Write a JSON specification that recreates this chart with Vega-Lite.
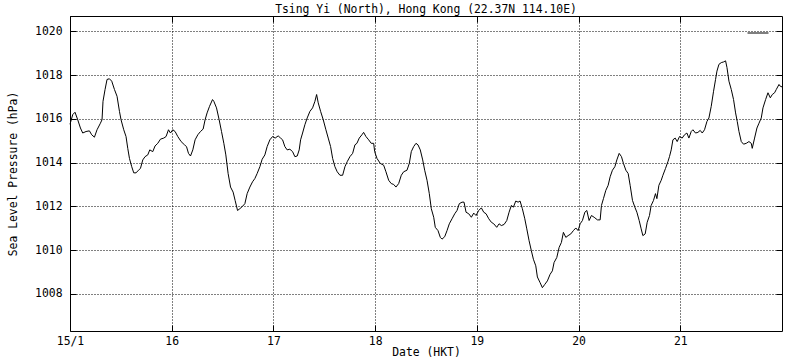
{
  "$schema": "https://vega.github.io/schema/vega-lite/v6.json",
  "width": 712,
  "height": 315,
  "autosize": {"type": "none"},
  "padding": {"left": 70, "top": 16, "right": 18, "bottom": 29},
  "background": "white",
  "title": {"text": "Tsing Yi (North), Hong Kong (22.37N 114.10E)", "fontSize": 11.4, "fontWeight": "normal", "font": "DejaVu Sans Mono", "color": "black", "offset": -9, "baseline": "alphabetic", "anchor": "middle"},
  "config": {
    "font": "DejaVu Sans Mono",
    "view": {"stroke": "black", "strokeWidth": 1},
    "axis": {
      "labelFont": "DejaVu Sans Mono", "labelFontSize": 11.4, "labelColor": "black",
      "titleFont": "DejaVu Sans Mono", "titleFontSize": 11.4, "titleFontWeight": "normal", "titleColor": "black",
      "domain": false, "grid": true, "gridColor": "black", "gridDash": [1, 2], "gridOpacity": 1, "gridWidth": 1,
      "ticks": true, "tickColor": "black", "tickSize": -6, "tickWidth": 1
    },
    "legend": {"padding": 0}
  },
  "data": {"values": [
    {"hour": 0.0, "p": 1015.75}, {"hour": 0.64, "p": 1016.19}, {"hour": 1.18, "p": 1016.3}, {"hour": 1.82, "p": 1015.96},
    {"hour": 2.46, "p": 1015.58}, {"hour": 3.0, "p": 1015.35}, {"hour": 3.78, "p": 1015.42}, {"hour": 4.58, "p": 1015.45},
    {"hour": 5.12, "p": 1015.27}, {"hour": 5.76, "p": 1015.16}, {"hour": 6.38, "p": 1015.5}, {"hour": 7.18, "p": 1015.8},
    {"hour": 7.56, "p": 1015.96}, {"hour": 7.79, "p": 1016.8}, {"hour": 8.27, "p": 1017.34}, {"hour": 8.74, "p": 1017.8},
    {"hour": 9.3, "p": 1017.83}, {"hour": 9.85, "p": 1017.72}, {"hour": 10.49, "p": 1017.34}, {"hour": 11.1, "p": 1017.03},
    {"hour": 11.67, "p": 1016.34}, {"hour": 12.04, "p": 1015.96}, {"hour": 12.68, "p": 1015.5}, {"hour": 13.22, "p": 1015.19},
    {"hour": 13.63, "p": 1014.65}, {"hour": 14.03, "p": 1014.19}, {"hour": 14.57, "p": 1013.81}, {"hour": 15.04, "p": 1013.53},
    {"hour": 15.59, "p": 1013.53}, {"hour": 16.15, "p": 1013.65}, {"hour": 16.62, "p": 1013.73}, {"hour": 17.17, "p": 1014.12},
    {"hour": 17.71, "p": 1014.27}, {"hour": 18.35, "p": 1014.35}, {"hour": 18.82, "p": 1014.58}, {"hour": 19.53, "p": 1014.5},
    {"hour": 20.07, "p": 1014.76}, {"hour": 20.71, "p": 1014.88}, {"hour": 21.35, "p": 1015.07}, {"hour": 22.13, "p": 1015.12},
    {"hour": 22.67, "p": 1015.19}, {"hour": 23.24, "p": 1015.5}, {"hour": 23.71, "p": 1015.35}, {"hour": 24.25, "p": 1015.5},
    {"hour": 24.8, "p": 1015.42}, {"hour": 25.43, "p": 1015.19}, {"hour": 26.21, "p": 1014.96}, {"hour": 27.02, "p": 1014.81},
    {"hour": 27.49, "p": 1014.73}, {"hour": 27.96, "p": 1014.42}, {"hour": 28.43, "p": 1014.3}, {"hour": 28.98, "p": 1014.58},
    {"hour": 29.52, "p": 1015.04}, {"hour": 30.16, "p": 1015.27}, {"hour": 30.79, "p": 1015.42}, {"hour": 31.41, "p": 1015.53},
    {"hour": 31.88, "p": 1015.96}, {"hour": 32.35, "p": 1016.27}, {"hour": 32.92, "p": 1016.57}, {"hour": 33.63, "p": 1016.88},
    {"hour": 33.94, "p": 1016.8}, {"hour": 34.57, "p": 1016.5}, {"hour": 35.19, "p": 1015.96}, {"hour": 35.75, "p": 1015.42},
    {"hour": 36.3, "p": 1014.88}, {"hour": 36.77, "p": 1014.35}, {"hour": 37.31, "p": 1013.5}, {"hour": 37.88, "p": 1012.88},
    {"hour": 38.49, "p": 1012.65}, {"hour": 38.96, "p": 1012.27}, {"hour": 39.53, "p": 1011.81}, {"hour": 40.07, "p": 1011.89},
    {"hour": 40.71, "p": 1012.0}, {"hour": 41.26, "p": 1012.12}, {"hour": 41.8, "p": 1012.58}, {"hour": 42.44, "p": 1012.88},
    {"hour": 43.07, "p": 1013.12}, {"hour": 43.62, "p": 1013.27}, {"hour": 44.16, "p": 1013.5}, {"hour": 44.8, "p": 1013.81},
    {"hour": 45.34, "p": 1014.15}, {"hour": 45.98, "p": 1014.35}, {"hour": 46.52, "p": 1014.73}, {"hour": 47.16, "p": 1015.04},
    {"hour": 47.8, "p": 1015.19}, {"hour": 48.41, "p": 1015.12}, {"hour": 49.12, "p": 1015.22}, {"hour": 49.69, "p": 1015.12},
    {"hour": 50.16, "p": 1015.04}, {"hour": 50.7, "p": 1014.73}, {"hour": 51.24, "p": 1014.58}, {"hour": 51.88, "p": 1014.61},
    {"hour": 52.52, "p": 1014.5}, {"hour": 53.06, "p": 1014.27}, {"hour": 53.61, "p": 1014.3}, {"hour": 54.08, "p": 1014.58},
    {"hour": 54.41, "p": 1015.04}, {"hour": 54.88, "p": 1015.35}, {"hour": 55.42, "p": 1015.73}, {"hour": 55.97, "p": 1016.04},
    {"hour": 56.61, "p": 1016.34}, {"hour": 57.24, "p": 1016.5}, {"hour": 57.79, "p": 1016.8}, {"hour": 58.19, "p": 1017.11},
    {"hour": 58.57, "p": 1016.73}, {"hour": 59.13, "p": 1016.34}, {"hour": 59.75, "p": 1015.96}, {"hour": 60.38, "p": 1015.5},
    {"hour": 60.93, "p": 1015.12}, {"hour": 61.49, "p": 1014.73}, {"hour": 61.97, "p": 1014.19}, {"hour": 62.51, "p": 1013.81},
    {"hour": 63.05, "p": 1013.58}, {"hour": 63.69, "p": 1013.42}, {"hour": 64.33, "p": 1013.42}, {"hour": 64.87, "p": 1013.81},
    {"hour": 65.41, "p": 1014.04}, {"hour": 66.05, "p": 1014.27}, {"hour": 66.69, "p": 1014.42}, {"hour": 67.23, "p": 1014.81},
    {"hour": 67.7, "p": 1014.88}, {"hour": 68.25, "p": 1015.12}, {"hour": 68.88, "p": 1015.27}, {"hour": 69.28, "p": 1015.38},
    {"hour": 69.83, "p": 1015.19}, {"hour": 70.47, "p": 1015.04}, {"hour": 71.08, "p": 1014.88}, {"hour": 71.65, "p": 1014.88},
    {"hour": 71.89, "p": 1014.5}, {"hour": 72.43, "p": 1014.19}, {"hour": 73.21, "p": 1013.96}, {"hour": 74.01, "p": 1013.88},
    {"hour": 74.55, "p": 1013.58}, {"hour": 75.19, "p": 1013.19}, {"hour": 75.8, "p": 1013.04}, {"hour": 76.37, "p": 1013.0},
    {"hour": 76.91, "p": 1012.88}, {"hour": 77.55, "p": 1013.04}, {"hour": 78.17, "p": 1013.42}, {"hour": 78.73, "p": 1013.58},
    {"hour": 79.51, "p": 1013.65}, {"hour": 80.06, "p": 1013.96}, {"hour": 80.53, "p": 1014.5}, {"hour": 81.09, "p": 1014.73},
    {"hour": 81.64, "p": 1014.88}, {"hour": 82.11, "p": 1014.81}, {"hour": 82.65, "p": 1014.58}, {"hour": 83.22, "p": 1014.12},
    {"hour": 83.69, "p": 1013.65}, {"hour": 84.24, "p": 1013.19}, {"hour": 84.78, "p": 1012.58}, {"hour": 85.25, "p": 1011.89},
    {"hour": 85.82, "p": 1011.5}, {"hour": 86.19, "p": 1011.04}, {"hour": 86.83, "p": 1010.89}, {"hour": 87.38, "p": 1010.58},
    {"hour": 87.78, "p": 1010.5}, {"hour": 88.41, "p": 1010.61}, {"hour": 88.96, "p": 1010.89}, {"hour": 89.5, "p": 1011.2},
    {"hour": 90.14, "p": 1011.43}, {"hour": 90.78, "p": 1011.66}, {"hour": 91.32, "p": 1011.81}, {"hour": 91.86, "p": 1012.12},
    {"hour": 92.5, "p": 1012.19}, {"hour": 92.97, "p": 1012.19}, {"hour": 93.45, "p": 1011.73}, {"hour": 94.08, "p": 1011.66},
    {"hour": 94.7, "p": 1011.5}, {"hour": 95.26, "p": 1011.69}, {"hour": 95.81, "p": 1011.58}, {"hour": 96.44, "p": 1011.81},
    {"hour": 97.06, "p": 1011.93}, {"hour": 97.62, "p": 1011.73}, {"hour": 98.17, "p": 1011.66}, {"hour": 98.81, "p": 1011.43},
    {"hour": 99.42, "p": 1011.27}, {"hour": 99.99, "p": 1011.2}, {"hour": 100.69, "p": 1011.04}, {"hour": 101.24, "p": 1011.2},
    {"hour": 101.78, "p": 1011.12}, {"hour": 102.42, "p": 1011.17}, {"hour": 103.06, "p": 1011.35}, {"hour": 103.6, "p": 1011.73},
    {"hour": 104.14, "p": 1012.04}, {"hour": 104.62, "p": 1011.96}, {"hour": 105.18, "p": 1012.24}, {"hour": 105.73, "p": 1012.19},
    {"hour": 106.2, "p": 1012.24}, {"hour": 106.74, "p": 1011.89}, {"hour": 107.31, "p": 1011.43}, {"hour": 107.78, "p": 1010.97},
    {"hour": 108.32, "p": 1010.43}, {"hour": 108.86, "p": 1009.97}, {"hour": 109.34, "p": 1009.58}, {"hour": 109.9, "p": 1009.28},
    {"hour": 110.28, "p": 1008.77}, {"hour": 110.92, "p": 1008.51}, {"hour": 111.46, "p": 1008.28}, {"hour": 112.03, "p": 1008.43},
    {"hour": 112.64, "p": 1008.59}, {"hour": 113.28, "p": 1008.89}, {"hour": 113.82, "p": 1009.05}, {"hour": 114.22, "p": 1009.43},
    {"hour": 114.86, "p": 1009.66}, {"hour": 115.41, "p": 1010.12}, {"hour": 115.95, "p": 1010.35}, {"hour": 116.42, "p": 1010.81},
    {"hour": 116.99, "p": 1010.58}, {"hour": 117.53, "p": 1010.66}, {"hour": 118.17, "p": 1010.74}, {"hour": 118.78, "p": 1010.89},
    {"hour": 119.35, "p": 1011.01}, {"hour": 119.89, "p": 1010.89}, {"hour": 120.37, "p": 1011.2}, {"hour": 120.91, "p": 1011.35},
    {"hour": 121.48, "p": 1011.73}, {"hour": 121.95, "p": 1011.81}, {"hour": 122.49, "p": 1011.35}, {"hour": 123.04, "p": 1011.58},
    {"hour": 123.67, "p": 1011.5}, {"hour": 124.45, "p": 1011.38}, {"hour": 125.09, "p": 1011.38}, {"hour": 125.4, "p": 1012.04},
    {"hour": 125.87, "p": 1012.35}, {"hour": 126.43, "p": 1012.73}, {"hour": 126.98, "p": 1012.96}, {"hour": 127.45, "p": 1013.35},
    {"hour": 127.99, "p": 1013.65}, {"hour": 128.56, "p": 1013.81}, {"hour": 129.03, "p": 1014.12}, {"hour": 129.58, "p": 1014.42},
    {"hour": 130.12, "p": 1014.27}, {"hour": 130.59, "p": 1013.96}, {"hour": 131.16, "p": 1013.65}, {"hour": 131.7, "p": 1013.5},
    {"hour": 132.17, "p": 1012.96}, {"hour": 132.72, "p": 1012.27}, {"hour": 133.28, "p": 1011.96}, {"hour": 133.76, "p": 1011.73},
    {"hour": 134.3, "p": 1011.35}, {"hour": 134.77, "p": 1010.97}, {"hour": 135.17, "p": 1010.66}, {"hour": 135.72, "p": 1010.74},
    {"hour": 136.19, "p": 1011.27}, {"hour": 136.73, "p": 1011.58}, {"hour": 137.13, "p": 1012.04}, {"hour": 137.68, "p": 1012.27},
    {"hour": 138.15, "p": 1012.58}, {"hour": 138.48, "p": 1012.35}, {"hour": 138.95, "p": 1012.96}, {"hour": 139.5, "p": 1013.19},
    {"hour": 139.9, "p": 1013.42}, {"hour": 140.51, "p": 1013.73}, {"hour": 141.08, "p": 1014.04}, {"hour": 141.45, "p": 1014.27},
    {"hour": 141.86, "p": 1014.58}, {"hour": 142.26, "p": 1015.04}, {"hour": 142.8, "p": 1015.12}, {"hour": 143.27, "p": 1014.96},
    {"hour": 143.82, "p": 1015.19}, {"hour": 144.45, "p": 1015.12}, {"hour": 145.0, "p": 1015.27}, {"hour": 145.56, "p": 1015.35},
    {"hour": 146.03, "p": 1015.12}, {"hour": 146.58, "p": 1015.42}, {"hour": 146.98, "p": 1015.5}, {"hour": 147.59, "p": 1015.35},
    {"hour": 148.16, "p": 1015.38}, {"hour": 148.7, "p": 1015.47}, {"hour": 149.18, "p": 1015.35}, {"hour": 149.72, "p": 1015.5},
    {"hour": 150.29, "p": 1015.88}, {"hour": 150.76, "p": 1016.04}, {"hour": 151.3, "p": 1016.57}, {"hour": 151.85, "p": 1017.26},
    {"hour": 152.32, "p": 1017.8}, {"hour": 152.65, "p": 1018.18}, {"hour": 153.12, "p": 1018.49}, {"hour": 153.67, "p": 1018.57},
    {"hour": 154.21, "p": 1018.6}, {"hour": 154.69, "p": 1018.65}, {"hour": 155.02, "p": 1018.34}, {"hour": 155.48, "p": 1017.72},
    {"hour": 156.03, "p": 1017.34}, {"hour": 156.57, "p": 1016.88}, {"hour": 157.05, "p": 1016.27}, {"hour": 157.44, "p": 1015.88},
    {"hour": 157.85, "p": 1015.42}, {"hour": 158.39, "p": 1014.96}, {"hour": 158.93, "p": 1014.84}, {"hour": 159.57, "p": 1014.88},
    {"hour": 160.2, "p": 1014.96}, {"hour": 160.75, "p": 1014.88}, {"hour": 160.98, "p": 1014.65}, {"hour": 161.53, "p": 1015.12},
    {"hour": 162.09, "p": 1015.58}, {"hour": 162.57, "p": 1015.8}, {"hour": 163.11, "p": 1016.04}, {"hour": 163.51, "p": 1016.5},
    {"hour": 164.13, "p": 1016.88}, {"hour": 164.69, "p": 1017.19}, {"hour": 165.24, "p": 1016.96}, {"hour": 165.71, "p": 1017.11},
    {"hour": 166.25, "p": 1017.19}, {"hour": 166.65, "p": 1017.34}, {"hour": 167.29, "p": 1017.57}, {"hour": 167.59, "p": 1017.49},
    {"hour": 168.0, "p": 1017.46}
  ]},
  "transform": [{"calculate": "''", "as": "series"}],
  "layer": [
    {
      "mark": {"type": "line", "strokeWidth": 1},
      "encoding": {
        "x": {"field": "hour", "type": "quantitative",
              "scale": {"domain": [0, 168], "nice": false, "zero": false},
              "axis": {"orient": "bottom", "title": "Date (HKT)", "values": [0, 24, 48, 72, 96, 120, 144],
                       "labelExpr": "datum.value == 0 ? '15/1' : format(15 + datum.value / 24, 'd')",
                       "labelPadding": 10, "titlePadding": 0, "labelFlush": false}},
        "y": {"field": "p", "type": "quantitative",
              "scale": {"domain": [1006.3, 1020.7], "nice": false, "zero": false},
              "axis": {"orient": "left", "title": "Sea Level Pressure (hPa)", "values": [1008, 1010, 1012, 1014, 1016, 1018, 1020],
                       "format": "d", "labelPadding": 14, "titlePadding": 16}},
        "color": {"field": "series", "type": "nominal",
                  "scale": {"range": ["black"]},
                  "legend": {"orient": "none", "legendX": 677, "legendY": 6, "symbolType": "stroke", "symbolSize": 441,
                             "symbolStrokeWidth": 1, "labelExpr": "''", "title": null, "symbolStrokeColor": "#222"}}
      }
    },
    {
      "mark": {"type": "line", "strokeOpacity": 0},
      "encoding": {
        "x": {"field": "hour", "type": "quantitative", "scale": {"domain": [0, 168], "nice": false, "zero": false},
              "axis": {"orient": "top", "title": null, "labels": false, "grid": false, "values": [0, 24, 48, 72, 96, 120, 144]}},
        "y": {"field": "p", "type": "quantitative", "scale": {"domain": [1006.3, 1020.7], "nice": false, "zero": false},
              "axis": {"orient": "right", "title": null, "labels": false, "grid": false, "values": [1008, 1010, 1012, 1014, 1016, 1018, 1020]}}
      }
    }
  ],
  "resolve": {"axis": {"x": "independent", "y": "independent"}}
}
